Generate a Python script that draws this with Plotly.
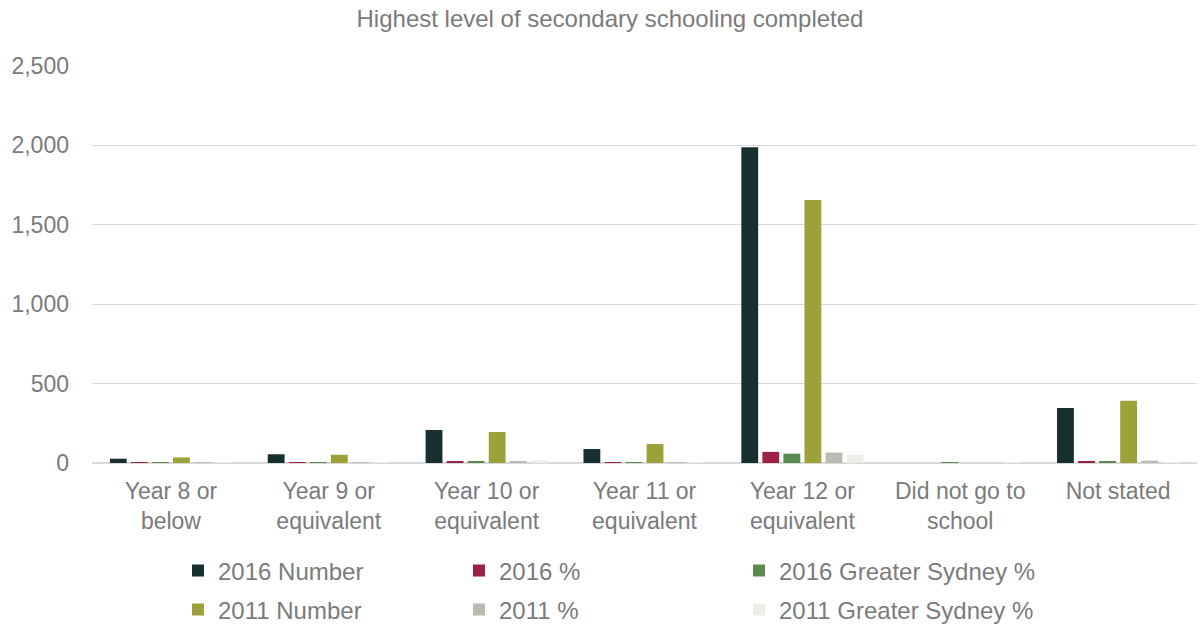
import plotly.graph_objects as go

categories = ["Year 8 or<br>below", "Year 9 or<br>equivalent", "Year 10 or<br>equivalent",
              "Year 11 or<br>equivalent", "Year 12 or<br>equivalent", "Did not go to<br>school",
              "Not stated"]

num_2016 = [27, 55, 208, 88, 1988, 0, 346]
pct_2016 = [1.0, 2.0, 6.5, 3.2, 70.0, 0.0, 12.8]
gs_pct_2016 = [4.5, 3.5, 12.0, 5.0, 59.0, 0.7, 8.0]
num_2011 = [35, 52, 195, 120, 1656, 0, 392]
pct_2011 = [1.4, 2.0, 7.9, 4.8, 66.0, 0.0, 15.0]
gs_pct_2011 = [5.5, 4.5, 17.0, 4.0, 52.0, 1.0, 6.0]

series = [
    ("2016 Number", num_2016, "#17302f"),
    ("2016 %", pct_2016, "#9b2242"),
    ("2016 Greater Sydney %", gs_pct_2016, "#5a8a50"),
    ("2011 Number", num_2011, "#9ca13a"),
    ("2011 %", pct_2011, "#bcbbb1"),
    ("2011 Greater Sydney %", gs_pct_2011, "#eeeee6"),
]

FONT = "Liberation Sans, Arial, sans-serif"
TXT = "#7b7b7b"
W, H = 1202, 626
ML, MR, MT, MB = 92, 5, 66, 163
PW = W - ML - MR
PH = H - MT - MB

# legend item pixel positions (left edge of item) and row centres
leg_x = [178, 459, 739]
leg_y = [571, 610]

fig = go.Figure()
layout_legends = {}
for i, (name, vals, col) in enumerate(series):
    key = "legend" if i == 0 else f"legend{i+1}"
    fig.add_trace(go.Bar(
        name=name, x=categories, y=vals, marker_color=col,
        marker_line_width=0, legend=key,
    ))
    row, colidx = divmod(i, 3)
    layout_legends[key] = dict(
        x=(leg_x[colidx] - ML) / PW, xanchor="left",
        y=(MT + PH - leg_y[row]) / PH, yanchor="middle",
        orientation="h", bgcolor="rgba(0,0,0,0)",
        font=dict(family=FONT, size=24, color=TXT),
        borderwidth=0,
    )

fig.update_layout(
    width=W, height=H,
    margin=dict(l=ML, r=MR, t=MT, b=MB, autoexpand=False),
    paper_bgcolor="white", plot_bgcolor="white",
    barmode="group", bargap=0.2, bargroupgap=0.2,
    title=dict(text="Highest level of secondary schooling completed",
               x=610 / W, xanchor="center", xref="container",
               y=1 - 19 / H, yanchor="middle",
               font=dict(family=FONT, size=24, color=TXT)),
    font=dict(family=FONT, color=TXT),
    showlegend=True,
    **layout_legends,
)

fig.update_xaxes(
    tickfont=dict(family=FONT, size=23, color=TXT),
    showgrid=False, showline=False, ticks="", ticklabelstandoff=12,
)
fig.update_yaxes(
    range=[0, 2500], dtick=500, tickformat=",",
    tickfont=dict(family=FONT, size=23, color=TXT),
    gridcolor="#d9d9d9", gridwidth=1,
    zeroline=True, zerolinecolor="#d9d9d9", zerolinewidth=2,
    showline=False, ticks="", ticklabelstandoff=22,
)

fig.write_html("out.html")
